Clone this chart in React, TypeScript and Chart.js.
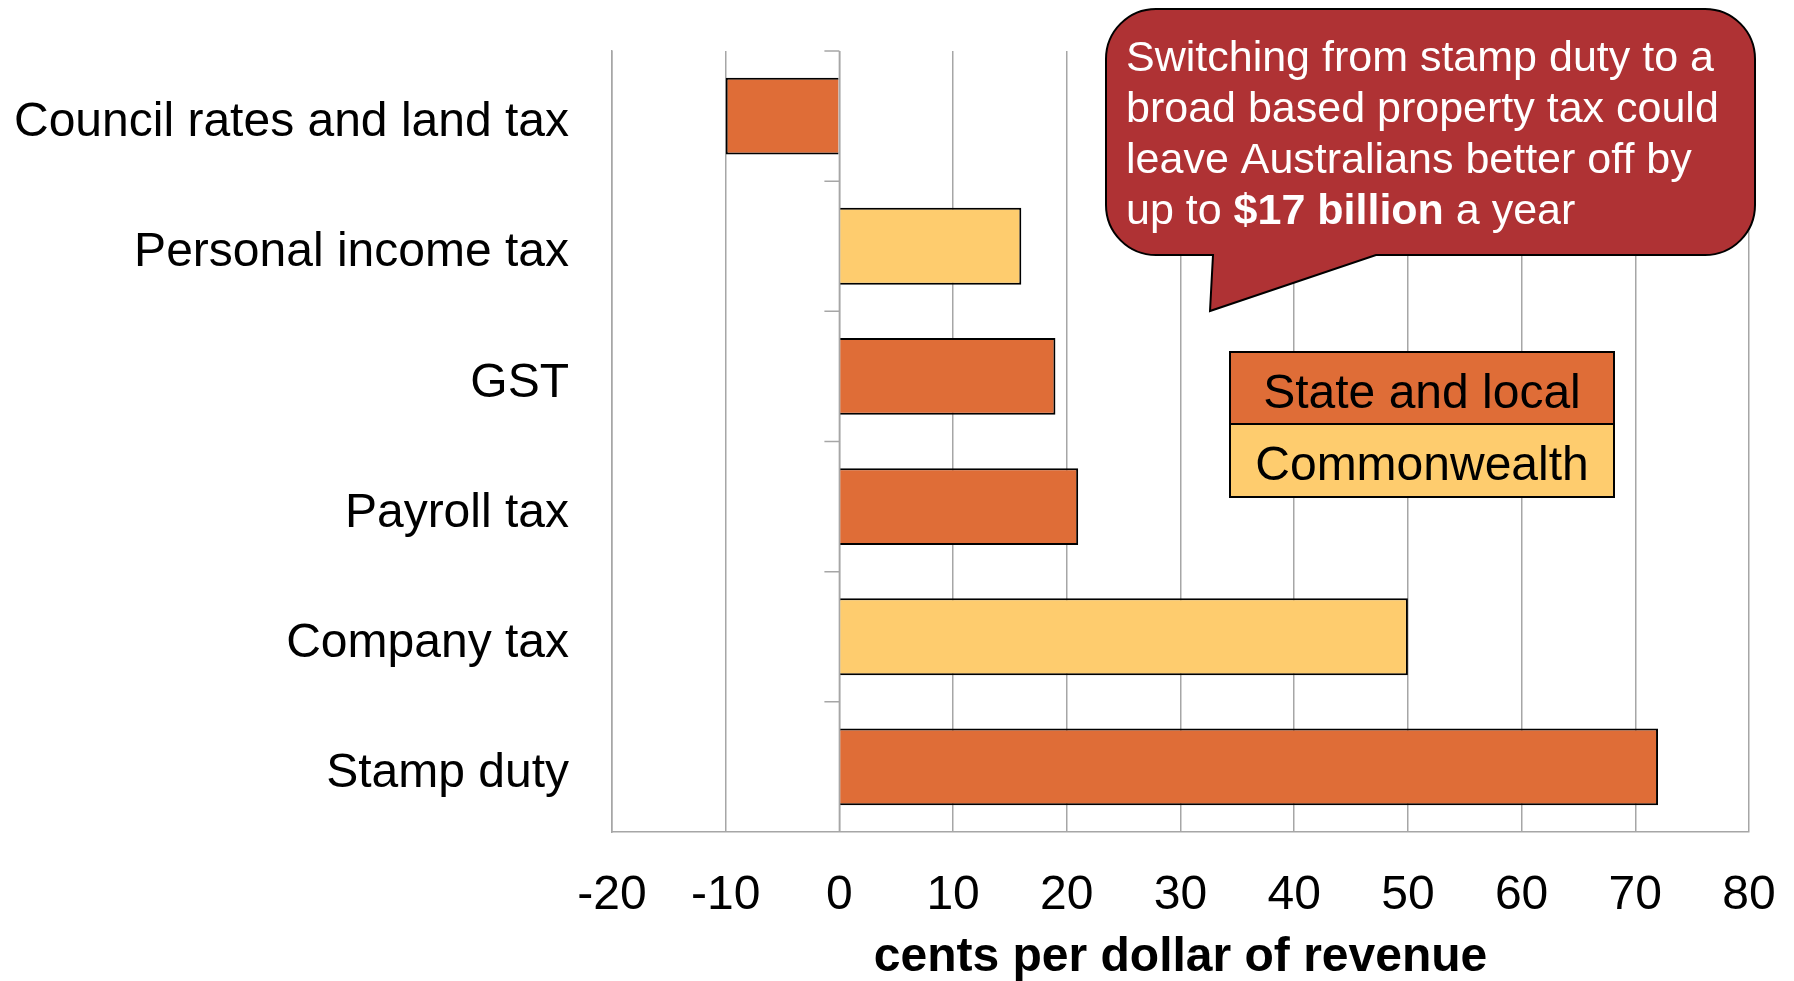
import { useEffect, useRef } from 'react';
import { Chart, registerables } from 'chart.js';

Chart.register(...registerables);

const categories = [
  'Council rates and land tax',
  'Personal income tax',
  'GST',
  'Payroll tax',
  'Company tax',
  'Stamp duty',
];
const values = [-10, 16, 19, 21, 50, 72];
const levels = [0, 1, 0, 0, 1, 0]; // 0 = State and local, 1 = Commonwealth
const legendLabels = ['State and local', 'Commonwealth'];
const legendColors = ['#DF6D37', '#FECC6E'];
const xMin = -20;
const xMax = 80;
const xStep = 10;
const axisTitle = 'cents per dollar of revenue';
const calloutLines = [
  [{ text: 'Switching from stamp duty to a', bold: false }],
  [{ text: 'broad based property tax could', bold: false }],
  [{ text: 'leave Australians better off by', bold: false }],
  [
    { text: 'up to ', bold: false },
    { text: '$17 billion', bold: true },
    { text: ' a year', bold: false },
  ],
];

const FONT = '"Liberation Sans", Arial, Helvetica, sans-serif';
const GRID = '#A6A6A6';
const CLEAR = 'rgba(0,0,0,0)';

const overlayPlugin = {
  id: 'overlay',
  afterDatasetsDraw(chart: any) {
    const ctx = chart.ctx;
    const xs = chart.scales.x;
    const ys = chart.scales.y;
    const area = chart.chartArea;
    ctx.save();
    // zero axis line with category tick marks
    const x0 = xs.getPixelForValue(0);
    ctx.strokeStyle = GRID;
    ctx.lineWidth = 1.5;
    ctx.beginPath();
    ctx.moveTo(x0, area.top);
    ctx.lineTo(x0, area.bottom);
    const centers = categories.map((_, i) => ys.getPixelForValue(i));
    const bounds = [area.top];
    for (let i = 0; i < centers.length - 1; i++) bounds.push((centers[i] + centers[i + 1]) / 2);
    bounds.forEach((yb) => {
      ctx.moveTo(x0 - 15, yb);
      ctx.lineTo(x0, yb);
    });
    ctx.stroke();

    // callout bubble
    const x1 = 1106, y1 = 9, x2 = 1755, y2 = 255, r = 50;
    const pBaseR = 1376, pBaseL = 1213, tipX = 1210, tipY = 311;
    ctx.beginPath();
    ctx.moveTo(x1 + r, y1);
    ctx.lineTo(x2 - r, y1);
    ctx.arcTo(x2, y1, x2, y1 + r, r);
    ctx.lineTo(x2, y2 - r);
    ctx.arcTo(x2, y2, x2 - r, y2, r);
    ctx.lineTo(pBaseR, y2);
    ctx.lineTo(tipX, tipY);
    ctx.lineTo(pBaseL, y2);
    ctx.lineTo(x1 + r, y2);
    ctx.arcTo(x1, y2, x1, y2 - r, r);
    ctx.lineTo(x1, y1 + r);
    ctx.arcTo(x1, y1, x1 + r, y1, r);
    ctx.closePath();
    ctx.fillStyle = '#AF3234';
    ctx.fill();
    ctx.strokeStyle = '#000';
    ctx.lineWidth = 2;
    ctx.stroke();

    ctx.fillStyle = '#FFFFFF';
    ctx.textBaseline = 'alphabetic';
    ctx.textAlign = 'left';
    calloutLines.forEach((segs, li) => {
      let x = 1126;
      const y = 71 + li * 51;
      segs.forEach((s) => {
        ctx.font = `${s.bold ? 'bold ' : ''}43px ${FONT}`;
        ctx.fillText(s.text, x, y);
        x += ctx.measureText(s.text).width;
      });
    });

    // legend
    const lx1 = 1230, lx2 = 1614, ly = [352, 424, 497];
    ctx.lineWidth = 2;
    ctx.strokeStyle = '#000';
    legendLabels.forEach((lab, i) => {
      ctx.fillStyle = legendColors[i];
      ctx.fillRect(lx1, ly[i], lx2 - lx1, ly[i + 1] - ly[i]);
      ctx.strokeRect(lx1, ly[i], lx2 - lx1, ly[i + 1] - ly[i]);
      ctx.fillStyle = '#000';
      ctx.font = `48px ${FONT}`;
      ctx.textAlign = 'center';
      ctx.textBaseline = 'alphabetic';
      ctx.fillText(lab, (lx1 + lx2) / 2, ly[i] + 56);
    });
    ctx.restore();
  },
};

export default function App() {
  const ref = useRef<HTMLCanvasElement>(null);
  useEffect(() => {
    document.body.style.margin = '0';
    document.body.style.overflow = 'hidden';
    const chart = new Chart(ref.current as HTMLCanvasElement, {
      type: 'bar',
      data: {
        labels: categories,
        datasets: [
          {
            data: values,
            backgroundColor: levels.map((l) => legendColors[l]),
            borderColor: '#000000',
            borderWidth: 2,
            categoryPercentage: 1,
            barPercentage: 0.59,
          },
        ],
      },
      options: {
        indexAxis: 'y',
        responsive: false,
        animation: false,
        devicePixelRatio: 1,
        layout: { padding: { top: 51, right: 45, left: 0, bottom: 0 } },
        plugins: { legend: { display: false }, tooltip: { enabled: false } },
        scales: {
          x: {
            type: 'linear',
            min: xMin,
            max: xMax,
            ticks: {
              stepSize: xStep,
              color: '#000',
              font: { family: FONT, size: 48 },
              padding: 0,
            },
            grid: {
              color: GRID,
              lineWidth: 1.5,
              drawTicks: true,
              tickLength: 35,
              tickColor: CLEAR,
            },
            border: { color: GRID, width: 1.5 },
            title: {
              display: true,
              text: axisTitle,
              color: '#000',
              font: { family: FONT, size: 48, weight: 'bold', lineHeight: 0.96 },
              padding: 0,
            },
            afterFit: (s: any) => {
              s.height = 149;
            },
          },
          y: {
            type: 'category',
            ticks: {
              color: '#000',
              font: { family: FONT, size: 48 },
              padding: 0,
              labelOffset: 7,
            },
            grid: {
              display: true,
              color: CLEAR,
              drawOnChartArea: false,
              drawTicks: true,
              tickLength: 43,
              tickColor: CLEAR,
            },
            border: { color: GRID, width: 1.5 },
            afterFit: (s: any) => {
              s.width = 612;
            },
          },
        },
      },
      plugins: [overlayPlugin],
    });
    return () => chart.destroy();
  }, []);
  return (
    <div style={{ width: 1794, height: 981 }}>
      <canvas ref={ref} width={1794} height={981} />
    </div>
  );
}
